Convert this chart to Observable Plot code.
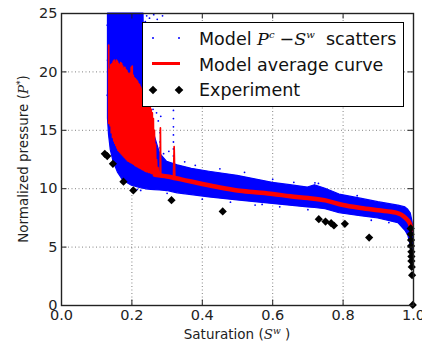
<!DOCTYPE html>
<html><head><meta charset="utf-8">
<script src="https://cdn.jsdelivr.net/npm/d3@7"></script>
<script src="https://cdn.jsdelivr.net/npm/@observablehq/plot@0.6"></script>
<style>
html,body{margin:0;padding:0;background:#fff;}
#chart{position:relative;width:422px;height:344px;}
</style></head><body><div id="chart"></div>
<script>
// ---- ticks ----
const xTicks = [0, 0.2, 0.4, 0.6, 0.8, 1.0];
const xTickLabels = ["0.0", "0.2", "0.4", "0.6", "0.8", "1.0"];
const yTicks = [0, 5, 10, 15, 20, 25];
const yTickLabels = ["0", "5", "10", "15", "20", "25"];

// ---- model scatter cloud (dense band: saturation, lower and upper pressure) ----
const cloudS    = [0.132, 0.135, 0.140, 0.148, 0.160, 0.175, 0.200, 0.225, 0.233, 0.236, 0.240, 0.255, 0.265, 0.280, 0.300, 0.330, 0.370, 0.420, 0.500, 0.550, 0.600, 0.650, 0.700, 0.720, 0.750, 0.790, 0.850, 0.900, 0.957, 0.977, 0.985, 0.992, 0.997, 1.000];
const cloudLow  = [16.0, 14.6, 13.3, 12.3, 11.4, 10.7, 10.25, 10.05, 10.0, 9.98, 9.95, 9.9, 9.88, 9.85, 9.8, 9.6, 9.45, 9.25, 9.0, 8.85, 8.7, 8.55, 8.4, 8.35, 8.25, 7.9, 7.65, 7.45, 7.05, 6.4, 6.0, 5.2, 4.8, 5.0];
const cloudHigh = [25, 25, 25, 25, 25, 25, 25, 25, 25, 17.5, 17.5, 16.5, 14.5, 13.0, 12.3, 12.0, 11.7, 11.45, 11.1, 10.8, 10.5, 10.3, 10.1, 10.3, 10.0, 9.5, 9.15, 8.85, 8.55, 8.4, 8.2, 7.9, 7.2, 6.5];

// ---- model scatter, isolated points ----
const sparseS = [0.238, 0.242, 0.250, 0.262, 0.272, 0.287, 0.260, 0.270, 0.275, 0.282, 0.280, 0.280, 0.280, 0.290, 0.318, 0.318, 0.318, 0.318, 0.318, 0.318, 0.318, 0.305, 0.130, 0.131, 0.130, 0.45, 0.52, 0.60, 0.72, 0.73, 0.66, 0.84, 0.35, 0.38, 0.55, 0.62, 0.70, 0.40, 0.30, 0.225, 0.215, 0.48, 0.57, 0.88, 0.93];
const sparseP = [24.3, 24.8, 24.6, 24.9, 24.5, 24.8, 16.8, 16.5, 15.8, 16.2, 14.8, 14.0, 13.5, 13.0, 16.7, 16.0, 15.3, 14.6, 14.0, 13.4, 12.8, 13.2, 18.0, 21.0, 24.0, 11.7, 11.4, 10.8, 10.5, 10.45, 10.55, 9.4, 12.3, 12.0, 8.6, 8.45, 8.2, 9.1, 9.6, 9.85, 9.95, 8.85, 8.65, 7.3, 7.1];

// ---- model average curve: oscillating part ----
const avgSpikyS = [0.134, 0.134, 0.1345, 0.137, 0.1385, 0.140, 0.1415, 0.1435, 0.145, 0.147, 0.1485, 0.150, 0.1515, 0.153, 0.1545, 0.156, 0.1575, 0.159, 0.1605, 0.162, 0.1635, 0.165, 0.1665, 0.168, 0.1695, 0.171, 0.1725, 0.174, 0.1755, 0.177, 0.1785, 0.180, 0.1815, 0.183, 0.1845, 0.186, 0.1875, 0.189, 0.1905, 0.192, 0.1935, 0.195, 0.1965, 0.198, 0.1995, 0.201, 0.2025, 0.204, 0.2055, 0.207, 0.2085, 0.210, 0.2115, 0.213, 0.2145, 0.216, 0.2175, 0.219, 0.2205, 0.222, 0.2235, 0.225, 0.2265, 0.228, 0.2295, 0.231, 0.2325, 0.234, 0.2355, 0.237, 0.2385, 0.240, 0.2415, 0.243, 0.2445, 0.246, 0.2475, 0.249, 0.2505, 0.252, 0.2535, 0.255, 0.2565, 0.258, 0.2595, 0.261, 0.2625, 0.264, 0.2655, 0.267, 0.2685, 0.270, 0.2715, 0.274, 0.276, 0.280, 0.281, 0.282, 0.290, 0.300, 0.318, 0.320, 0.322, 0.330];
const avgSpikyP = [15.6, 22.3, 15.6, 20.2, 15.4, 20.6, 14.8, 20.7, 14.4, 20.9, 14.1, 21.0, 13.9, 20.8, 13.7, 21.0, 13.5, 20.9, 13.3, 20.7, 13.2, 20.6, 13.1, 20.8, 13.0, 20.7, 12.9, 20.5, 12.8, 20.3, 12.7, 20.4, 12.6, 20.2, 12.5, 20.1, 12.4, 19.9, 12.35, 19.8, 12.3, 19.9, 12.25, 20.4, 12.2, 20.5, 12.15, 19.7, 12.1, 19.5, 12.0, 19.4, 11.95, 19.3, 11.9, 19.2, 11.85, 19.0, 11.8, 18.9, 11.75, 18.7, 11.7, 18.5, 11.65, 18.3, 11.6, 18.1, 11.55, 17.9, 11.5, 17.7, 11.45, 17.5, 11.45, 17.3, 11.4, 17.2, 11.4, 17.0, 11.35, 16.8, 11.3, 16.5, 11.3, 16.0, 11.25, 15.0, 11.2, 13.8, 11.2, 12.5, 11.15, 11.8, 11.15, 11.15, 15.2, 11.1, 11.1, 11.1, 10.95, 13.6, 10.9, 10.85];

// ---- model average curve: smooth part ----
const avgS = [0.265, 0.300, 0.340, 0.400, 0.450, 0.500, 0.550, 0.600, 0.650, 0.700, 0.750, 0.800, 0.850, 0.900, 0.950, 0.977, 0.990, 0.995];
const avgP = [11.2, 11.05, 10.8, 10.4, 10.1, 9.85, 9.7, 9.55, 9.35, 9.2, 9.0, 8.6, 8.35, 8.15, 7.95, 7.5, 7.0, 6.5];

// ---- experiment ----
const expS = [0.123, 0.130, 0.146, 0.176, 0.204, 0.3125, 0.458, 0.731, 0.750, 0.766, 0.774, 0.805, 0.874, 0.992, 0.992, 0.993, 0.993, 0.994, 0.994, 0.994, 0.995, 0.996, 0.998];
const expP = [12.99, 12.79, 12.13, 10.6, 9.85, 9.02, 8.05, 7.39, 7.19, 7.05, 6.85, 6.99, 5.82, 6.6, 6.1, 5.6, 5.1, 4.6, 4.2, 3.8, 3.3, 2.6, 0.05];

// build tables
const cloud = cloudS.map((s, i) => ({s, lo: cloudLow[i], hi: cloudHigh[i]}));
const sparse = sparseS.map((s, i) => ({s, p: sparseP[i]}));
const spiky = avgSpikyS.map((s, i) => ({s, p: avgSpikyP[i]}));
const avg = avgS.map((s, i) => ({s, p: avgP[i]}));
const expt = expS.map((s, i) => ({s, p: expP[i]}));

const W = 422, H = 344, ML = 61, MR = 9, MT = 13, MB = 39;
const PW = W - ML - MR, PH = H - MT - MB, TL = 5.5;
const BLUE = "#0000ff", RED = "#ff0000";

const chart = Plot.plot({
  width: W, height: H,
  marginLeft: ML, marginRight: MR, marginTop: MT, marginBottom: MB,
  x: {domain: [0, 1]},
  y: {domain: [0, 25]},
  style: {fontFamily: "DejaVu Sans", fontSize: "14px", background: "white", color: "#222"},
  marks: [
    Plot.gridX(xTicks.slice(1, -1), {stroke: "#000", strokeOpacity: 0.55, strokeDasharray: "1,2.5", strokeWidth: 0.9}),
    Plot.gridY(yTicks.slice(1, -1), {stroke: "#000", strokeOpacity: 0.55, strokeDasharray: "1,2.5", strokeWidth: 0.9}),
    Plot.areaY(cloud, {x: "s", y1: "lo", y2: "hi", fill: BLUE, stroke: BLUE, strokeWidth: 1.2}),
    Plot.dot(sparse, {x: "s", y: "p", r: 0.9, fill: BLUE}),
    Plot.line(spiky, {x: "s", y: "p", stroke: RED, strokeWidth: 1.7}),
    Plot.line(avg, {x: "s", y: "p", stroke: RED, strokeWidth: 4.5, curve: "monotone-x"}),
    Plot.dot(expt, {x: "s", y: "p", symbol: "diamond2", r: 3.7, fill: "#000", stroke: "none"}),
    Plot.tickX(xTicks.slice(1, -1), {x: d => d, insetTop: PH - TL, stroke: "#222"}),
    Plot.tickX(xTicks.slice(1, -1), {x: d => d, insetBottom: PH - TL, stroke: "#222"}),
    Plot.tickY(yTicks.slice(1, -1), {y: d => d, insetRight: PW - TL, stroke: "#222"}),
    Plot.tickY(yTicks.slice(1, -1), {y: d => d, insetLeft: PW - TL, stroke: "#222"}),
    Plot.frame({stroke: "#222", strokeWidth: 1.4}),
    Plot.axisX(xTicks, {tickSize: 0, tickPadding: 4, label: null, fontSize: 14.5, fill: "#222",
      tickFormat: d => xTickLabels[xTicks.indexOf(d)]}),
    Plot.axisY(yTicks, {tickSize: 0, tickPadding: 4, label: null, fontSize: 14.5, fill: "#222",
      tickFormat: d => yTickLabels[yTicks.indexOf(d)]})
  ]
});
document.getElementById("chart").appendChild(chart);

const svg = d3.select(chart);
const serif = "DejaVu Serif";

// x axis label
const xl = svg.append("text").attr("x", ML + PW / 2).attr("y", 339).attr("text-anchor", "middle")
  .attr("font-family", "DejaVu Sans").attr("font-size", 13.5).attr("fill", "#222");
xl.append("tspan").text("Saturation (");
xl.append("tspan").attr("font-family", serif).attr("font-style", "italic").text("S");
xl.append("tspan").attr("font-family", serif).attr("font-style", "italic").attr("font-size", 9).attr("dy", -5).text("w");
xl.append("tspan").attr("dy", 5).text(" )");

// y axis label
const yl = svg.append("text").attr("transform", `translate(28,${MT + PH / 2}) rotate(-90)`).attr("text-anchor", "middle")
  .attr("font-family", "DejaVu Sans").attr("font-size", 13.5).attr("fill", "#222");
yl.append("tspan").text("Normalized pressure (");
yl.append("tspan").attr("font-family", serif).attr("font-style", "italic").text("P");
yl.append("tspan").attr("font-family", serif).attr("font-size", 9).attr("dy", -5).text("*");
yl.append("tspan").attr("dy", 5).text(")");

// legend
const lg = svg.append("g").attr("text-anchor", "start");
lg.append("rect").attr("x", 142.5).attr("y", 22.5).attr("width", 261).attr("height", 84)
  .attr("fill", "#fff").attr("stroke", "#000").attr("stroke-width", 1);
lg.append("circle").attr("cx", 153).attr("cy", 38).attr("r", 1).attr("fill", BLUE);
lg.append("circle").attr("cx", 179).attr("cy", 38).attr("r", 1).attr("fill", BLUE);
lg.append("line").attr("x1", 152).attr("x2", 180).attr("y1", 63.5).attr("y2", 63.5).attr("stroke", RED).attr("stroke-width", 3);
const dia = (cx, cy, r) => `M${cx},${cy - r}L${cx + r},${cy}L${cx},${cy + r}L${cx - r},${cy}Z`;
lg.append("path").attr("d", dia(153, 90, 4.3)).attr("fill", "#000");
lg.append("path").attr("d", dia(179, 90, 4.3)).attr("fill", "#000");
const lt = (y) => lg.append("text").attr("x", 199).attr("y", y).attr("text-anchor", "start")
  .attr("font-family", "DejaVu Sans").attr("font-size", 17.5).attr("fill", "#111");
const t1 = lt(45);
t1.append("tspan").text("Model ");
t1.append("tspan").attr("font-family", serif).attr("font-style", "italic").text("P");
t1.append("tspan").attr("font-family", serif).attr("font-style", "italic").attr("font-size", 10).attr("dy", -7).text("c");
t1.append("tspan").attr("dy", 7).attr("dx", 5).text("\u2212");
t1.append("tspan").attr("font-family", serif).attr("font-style", "italic").text("S");
t1.append("tspan").attr("font-family", serif).attr("font-style", "italic").attr("font-size", 10).attr("dy", -7).text("w");
t1.append("tspan").attr("dy", 7).attr("x", 326).text("scatters");
lt(71).text("Model average curve");
lt(96).text("Experiment");
</script></body></html>
